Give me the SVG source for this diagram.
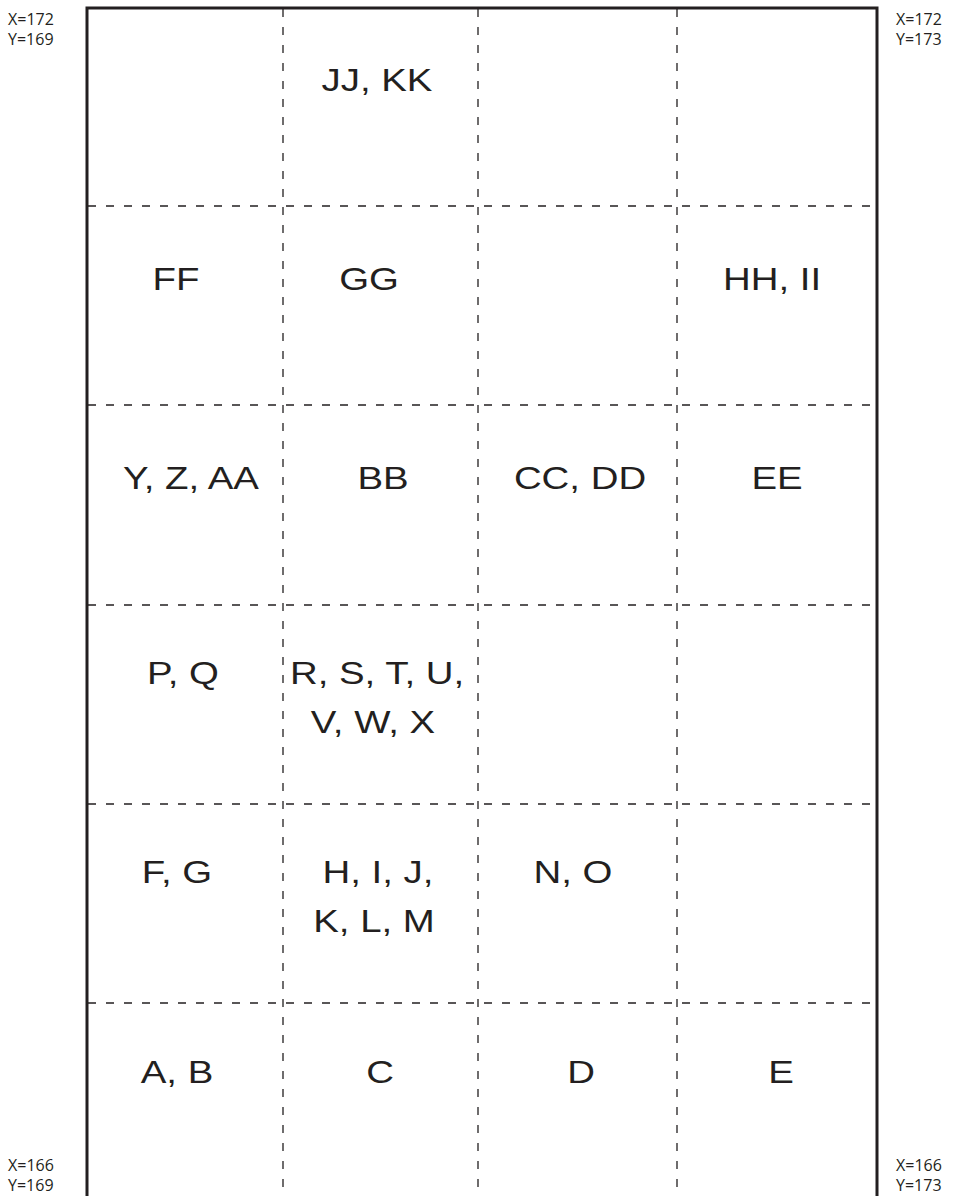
<svg xmlns="http://www.w3.org/2000/svg" width="956" height="1196" viewBox="0 0 956 1196">
<style>
.lbl{font-family:"Liberation Sans",Arial,sans-serif;font-size:32px;fill:#231f20;text-anchor:middle}
.crd{font-family:"Open Sans","Liberation Sans",sans-serif;font-size:16px;fill:#231f20}
.grid{stroke:#231f20;stroke-width:1.3;stroke-dasharray:8 10;fill:none}
</style>
<rect width="956" height="1196" fill="#fff"/>
<g id="connectors">
<path class="grid" d="M283 9V1196M478 9V1196M677 9V1196"/>
<path class="grid" d="M88 206H876M88 405H876M88 605H876M88 804H876M88 1003H876"/>
</g>
<path id="frame" d="M87 1196V8H877V1196" fill="none" stroke="#231f20" stroke-width="3"/>
<g id="coords">
<text class="crd" x="8" y="25">X=172</text><text class="crd" x="8" y="45">Y=169</text>
<text class="crd" x="896" y="25">X=172</text><text class="crd" x="896" y="45">Y=173</text>
<text class="crd" x="8" y="1171">X=166</text><text class="crd" x="8" y="1191">Y=169</text>
<text class="crd" x="896" y="1171">X=166</text><text class="crd" x="896" y="1191">Y=173</text>
</g>
<g id="n-jjkk"><text class="lbl" transform="translate(377 91) scale(1.2 1)">JJ, KK</text></g>
<g id="n-ff"><text class="lbl" transform="translate(176 290) scale(1.2 1)">FF</text></g>
<g id="n-gg"><text class="lbl" transform="translate(369 290) scale(1.2 1)">GG</text></g>
<g id="n-hhii"><text class="lbl" transform="translate(772 290) scale(1.2 1)">HH, II</text></g>
<g id="n-yzaa"><text class="lbl" transform="translate(191 489) scale(1.2 1)">Y, Z, AA</text></g>
<g id="n-bb"><text class="lbl" transform="translate(383 489) scale(1.2 1)">BB</text></g>
<g id="n-ccdd"><text class="lbl" transform="translate(580 489) scale(1.2 1)">CC, DD</text></g>
<g id="n-ee"><text class="lbl" transform="translate(777 489) scale(1.2 1)">EE</text></g>
<g id="n-pq"><text class="lbl" transform="translate(183 684) scale(1.2 1)">P, Q</text></g>
<g id="n-rx"><text class="lbl" transform="translate(377 684) scale(1.2 1)">R, S, T, U,</text><text class="lbl" transform="translate(373 733) scale(1.2 1)">V, W, X</text></g>
<g id="n-fg"><text class="lbl" transform="translate(177 883) scale(1.2 1)">F, G</text></g>
<g id="n-hm"><text class="lbl" transform="translate(378 883) scale(1.2 1)">H, I, J,</text><text class="lbl" transform="translate(374 932) scale(1.2 1)">K, L, M</text></g>
<g id="n-no"><text class="lbl" transform="translate(573 883) scale(1.2 1)">N, O</text></g>
<g id="n-ab"><text class="lbl" transform="translate(177 1083) scale(1.2 1)">A, B</text></g>
<g id="n-c"><text class="lbl" transform="translate(380 1083) scale(1.2 1)">C</text></g>
<g id="n-d"><text class="lbl" transform="translate(581 1083) scale(1.2 1)">D</text></g>
<g id="n-e"><text class="lbl" transform="translate(781 1083) scale(1.2 1)">E</text></g>
</svg>
